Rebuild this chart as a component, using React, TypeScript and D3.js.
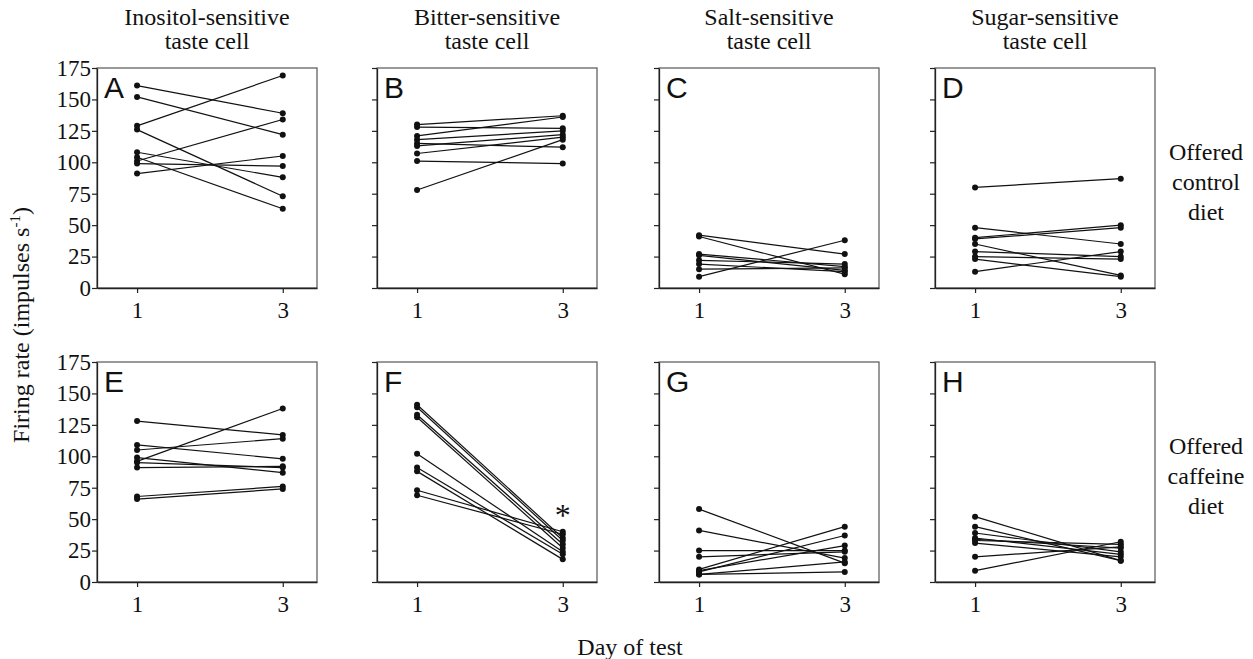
import * as d3 from 'd3'
import React, { useEffect, useRef } from 'react'

// firing rates (impulses s-1) per cell, day 1 and day 3
const controlInositolDay1 = [161, 152, 129, 126, 101, 108, 104, 99, 91];
const controlInositolDay3 = [139, 122, 169, 73, 134, 88, 63, 97, 105];
const controlBitterDay1 = [130, 128, 121, 118, 115, 113, 107, 101, 78];
const controlBitterDay3 = [137, 127, 136, 125, 112, 122, 120, 99, 118];
const controlSaltDay1 = [42, 41, 27, 26, 22, 19, 15, 9];
const controlSaltDay3 = [27, 11, 17, 14, 19, 13, 16, 38];
const controlSugarDay1 = [80, 48, 40, 39, 35, 29, 25, 23, 13];
const controlSugarDay3 = [87, 35, 50, 48, 10, 25, 23, 9, 29];

const caffeineInositolDay1 = [128, 109, 105, 96, 99, 95, 91, 68, 66];
const caffeineInositolDay3 = [117, 98, 114, 138, 87, 91, 92, 76, 74];
const caffeineBitterDay1 = [141, 139, 133, 131, 102, 91, 88, 73, 69];
const caffeineBitterDay3 = [35, 33, 30, 27, 24, 22, 18, 40, 38];
const caffeineSaltDay1 = [58, 41, 25, 20, 10, 9, 8, 6, 6];
const caffeineSaltDay3 = [15, 19, 25, 24, 44, 29, 37, 16, 8];
const caffeineSugarDay1 = [52, 44, 39, 35, 34, 33, 31, 20, 9];
const caffeineSugarDay3 = [17, 17, 24, 22, 27, 30, 20, 28, 32];

const cellTitles = [
    ['Inositol-sensitive', 'taste cell'],
    ['Bitter-sensitive', 'taste cell'],
    ['Salt-sensitive', 'taste cell'],
    ['Sugar-sensitive', 'taste cell'],
];
const dietLabels = [
    ['Offered', 'control', 'diet'],
    ['Offered', 'caffeine', 'diet'],
];
const panelLetters = ['A', 'B', 'C', 'D', 'E', 'F', 'G', 'H'];
const yTicks = [0, 25, 50, 75, 100, 125, 150, 175];
const days = [1, 3];

const panels = [
    [controlInositolDay1, controlInositolDay3],
    [controlBitterDay1, controlBitterDay3],
    [controlSaltDay1, controlSaltDay3],
    [controlSugarDay1, controlSugarDay3],
    [caffeineInositolDay1, caffeineInositolDay3],
    [caffeineBitterDay1, caffeineBitterDay3],
    [caffeineSaltDay1, caffeineSaltDay3],
    [caffeineSugarDay1, caffeineSugarDay3],
];

const serif = '"Liberation Serif", "Times New Roman", serif';
const sans = '"Liberation Sans", Arial, sans-serif';

const TasteCellFigure: React.FC = () => {
    const chartRef = useRef<SVGSVGElement>(null);

    useEffect(() => {
        if (!chartRef.current) return;
        const width = 1253;
        const height = 659;
        const colLeft = [97, 377, 659, 935];
        const rowTop = [68, 362];
        const pw = 220;
        const ph = 220;
        const labelSize = 24;
        const tickSize = 23;

        const svg = d3.select(chartRef.current)
            .attr('width', width)
            .attr('height', height);
        svg.selectAll('*').remove();

        const x = d3.scaleLinear().domain([0.45, 3.47]).range([0, pw]);
        const y = d3.scaleLinear().domain([0, 175]).range([ph, 0]);

        panels.forEach((pair, i) => {
            const col = i % 4;
            const row = Math.floor(i / 4);
            const g = svg.append('g')
                .attr('transform', `translate(${colLeft[col]},${rowTop[row]})`);

            g.append('rect')
                .attr('width', pw)
                .attr('height', ph)
                .attr('fill', 'none')
                .attr('stroke', '#555')
                .attr('stroke-width', 1.2);

            const yAxis = d3.axisLeft(y).tickValues(yTicks).tickSize(5).tickSizeOuter(0)
                .tickFormat(col === 0 ? (d => String(d)) : () => '');
            g.append('g')
                .call(yAxis)
                .attr('font-family', serif)
                .attr('font-size', tickSize)
                .call(a => a.select('.domain').attr('stroke', '#222').attr('stroke-width', 1.3))
                .call(a => a.selectAll('line').attr('stroke', '#222').attr('stroke-width', 1.2))
                .call(a => a.selectAll('text').attr('fill', '#111').attr('x', -6));

            const xAxis = d3.axisBottom(x).tickValues(days).tickSize(5).tickSizeOuter(0)
                .tickFormat(d => String(d));
            g.append('g')
                .attr('transform', `translate(0,${ph})`)
                .call(xAxis)
                .attr('font-family', serif)
                .attr('font-size', tickSize)
                .call(a => a.select('.domain').attr('stroke', '#222').attr('stroke-width', 1.3))
                .call(a => a.selectAll('line').attr('stroke', '#222').attr('stroke-width', 1.2))
                .call(a => a.selectAll('text').attr('fill', '#111').attr('y', 14));

            const [d1, d3v] = pair;
            const cells = d1.map((v, k) => [v, d3v[k]]);

            g.append('g')
                .selectAll('line')
                .data(cells)
                .enter()
                .append('line')
                .attr('x1', x(1))
                .attr('x2', x(3))
                .attr('y1', d => y(d[0]))
                .attr('y2', d => y(d[1]))
                .attr('stroke', '#111')
                .attr('stroke-width', 1.2);

            const dots = cells.flatMap(d => [[1, d[0]], [3, d[1]]]);
            g.append('g')
                .selectAll('circle')
                .data(dots)
                .enter()
                .append('circle')
                .attr('cx', d => x(d[0]))
                .attr('cy', d => y(d[1]))
                .attr('r', 3)
                .attr('fill', '#111');

            g.append('text')
                .attr('x', 7)
                .attr('y', 30)
                .attr('font-family', sans)
                .attr('font-size', 30)
                .attr('fill', '#111')
                .text(panelLetters[i]);

            if (i === 5) {
                g.append('text')
                    .attr('x', x(3))
                    .attr('y', y(40) - 6)
                    .attr('text-anchor', 'middle')
                    .attr('font-family', serif)
                    .attr('font-size', 32)
                    .attr('fill', '#111')
                    .text('*');
            }
        });

        // column titles
        cellTitles.forEach((lines, c) => {
            const t = svg.append('text')
                .attr('text-anchor', 'middle')
                .attr('font-family', serif)
                .attr('font-size', labelSize)
                .attr('fill', '#111');
            lines.forEach((l, k) => {
                t.append('tspan')
                    .attr('x', colLeft[c] + pw / 2)
                    .attr('y', 25 + k * 24)
                    .text(l);
            });
        });

        // row labels
        dietLabels.forEach((lines, r) => {
            const t = svg.append('text')
                .attr('text-anchor', 'middle')
                .attr('font-family', serif)
                .attr('font-size', labelSize)
                .attr('fill', '#111');
            lines.forEach((l, k) => {
                t.append('tspan')
                    .attr('x', 1206)
                    .attr('y', rowTop[r] + 92 + k * 30)
                    .text(l);
            });
        });

        // y axis title
        const yt = svg.append('text')
            .attr('transform', 'translate(29,325) rotate(-90)')
            .attr('text-anchor', 'middle')
            .attr('font-family', serif)
            .attr('font-size', labelSize)
            .attr('fill', '#111');
        yt.append('tspan').text('Firing rate (impulses s');
        yt.append('tspan').attr('dy', -9).attr('font-size', 15).text('-1');
        yt.append('tspan').attr('dy', 9).text(')');

        svg.append('text')
            .attr('x', 630)
            .attr('y', 655)
            .attr('text-anchor', 'middle')
            .attr('font-family', serif)
            .attr('font-size', labelSize)
            .attr('fill', '#111')
            .text('Day of test');
    }, []);

    return <svg ref={chartRef} style={{ position: 'absolute', left: 0, top: 0, background: '#fff' }}></svg>;
};

export default function App() {
    return <TasteCellFigure />;
}
